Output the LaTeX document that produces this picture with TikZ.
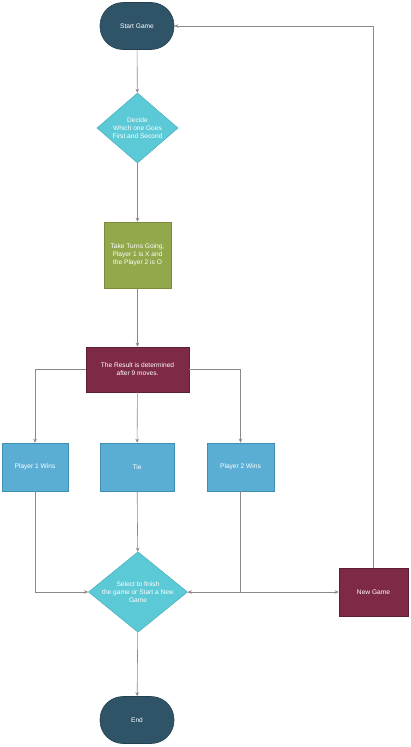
\documentclass[tikz,border=0pt]{standalone}
\usepackage{fontspec}
\setmainfont{Liberation Sans}
\usetikzlibrary{shapes.geometric,arrows.meta}

\definecolor{termfill}{HTML}{2F5468}
\definecolor{termline}{HTML}{24404F}
\definecolor{decfill}{HTML}{5CC9D6}
\definecolor{decline}{HTML}{4DB3C0}
\definecolor{turnfill}{HTML}{93A74B}
\definecolor{turnline}{HTML}{7A8C3C}
\definecolor{resfill}{HTML}{7E2A47}
\definecolor{resline}{HTML}{5E1F35}
\definecolor{winfill}{HTML}{5AAED3}
\definecolor{winline}{HTML}{3F8FB3}
\definecolor{linegray}{HTML}{8A8A8A}

\tikzset{
  base/.style={font=\fontsize{6.6}{8}\selectfont, text=white, align=center,
               inner sep=0pt, line width=0.6pt},
  terminal/.style={base, rectangle, rounded corners=23pt, fill=termfill, draw=termline,
                   minimum width=74pt, minimum height=47pt},
  decision/.style={base, diamond, aspect=1.15, fill=decfill, draw=decline},
  turnbox/.style={base, rectangle, fill=turnfill, draw=turnline},
  resultbox/.style={base, rectangle, fill=resfill, draw=resline},
  winbox/.style={base, rectangle, fill=winfill, draw=winline,
                 minimum height=48pt},
  flow/.style={draw=linegray, line width=0.6pt,
               -{Stealth[length=4pt,width=3.6pt]}}
}

\begin{document}
\begin{tikzpicture}[x=1pt,y=-1pt]
  \useasboundingbox (0,0) rectangle (410,747);

  % main column
  \node[terminal] (start) at (137,26) {Start Game};
  \node[decision, minimum width=81pt, minimum height=70pt] (decide) at (137.5,128)
    {Decide\\Which one Goes\\First and Second};
  \node[turnbox, minimum width=67pt, minimum height=66pt] (turns) at (137.5,255)
    {Take Turns Going,\\Player 1 is X and\\the Player 2 is O};
  \node[resultbox, minimum width=103pt, minimum height=45pt] (result) at (137.5,369.5)
    {The Result is determined\\after 9 moves.};

  % outcomes
  \node[winbox, minimum width=66pt] (p1) at (35,467) {Player 1 Wins};
  \node[winbox, minimum width=74pt] (tie) at (137,467) {Tie};
  \node[winbox, minimum width=67pt] (p2) at (240.5,467) {Player 2 Wins};

  % final choice
  \node[decision, aspect=1.2, minimum width=99pt, minimum height=80pt] (select) at (138,592)
    {Select to finish\\the game or Start a New\\Game};
  \node[resultbox, minimum width=69pt, minimum height=48pt] (newgame) at (373.5,592) {New Game};
  \node[terminal] (endn) at (137,720) {End};

  % connectors
  \draw[flow] (start) -- (decide);
  \draw[flow] (decide) -- (turns);
  \draw[flow] (turns) -- (result);
  \draw[flow] (result.west) -| (p1.north);
  \draw[flow] (result) -- (tie);
  \draw[flow] (result.east) -| (p2.north);
  \draw[flow] (p1.south) |- (select.west);
  \draw[flow] (tie) -- (select);
  \draw[flow] (p2.south) |- (select.east);
  \draw[flow] (select.east) -- (newgame.west);
  \draw[flow] (newgame.north) |- (start.east);
  \draw[flow] (select) -- (endn);
\end{tikzpicture}
\end{document}
